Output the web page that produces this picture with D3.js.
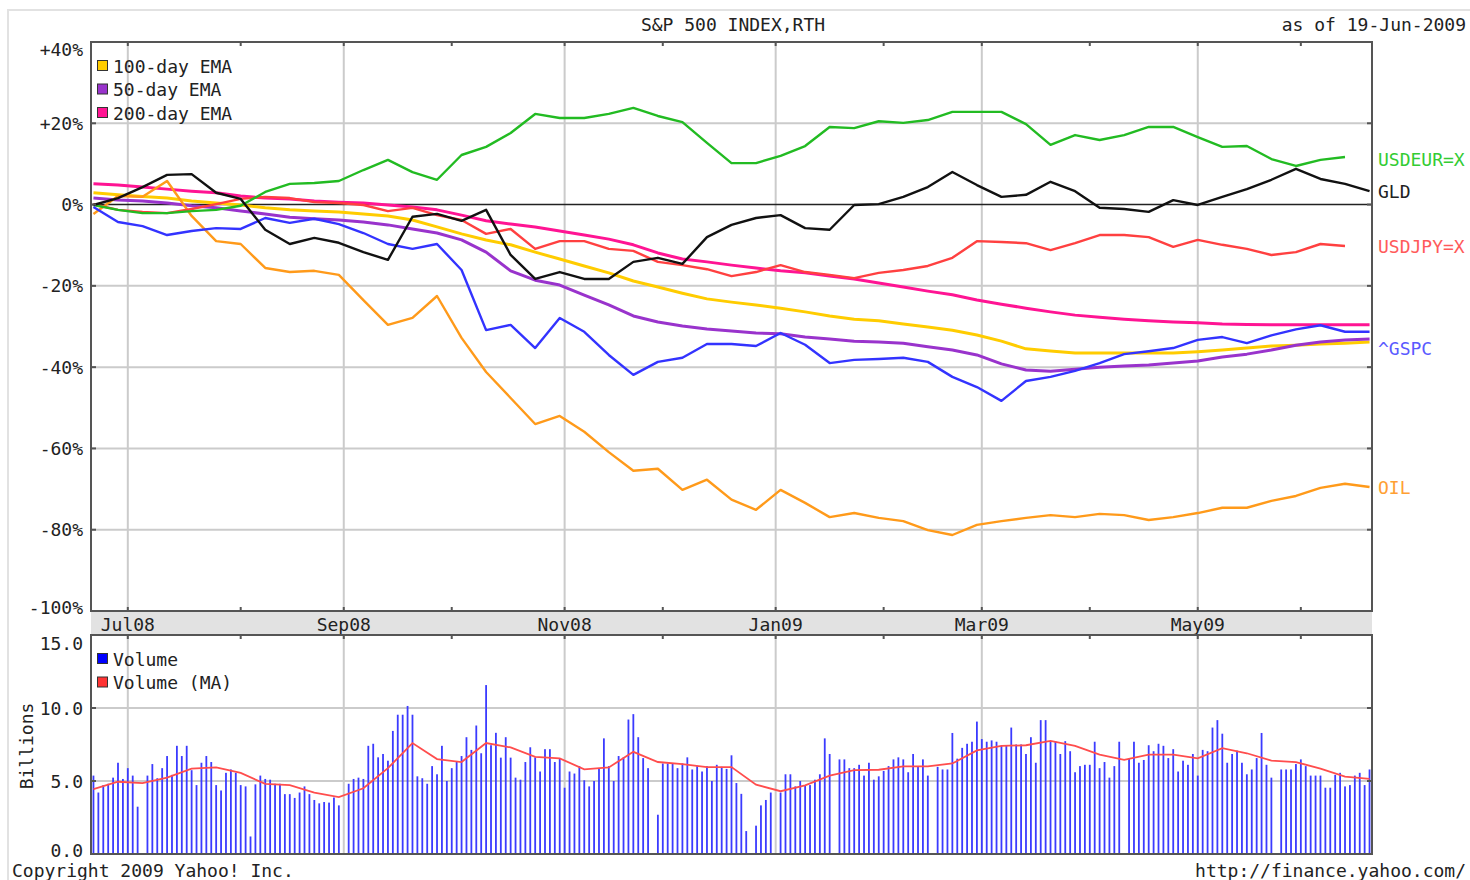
<!DOCTYPE html>
<html>
<head>
<meta charset="utf-8">
<script src="https://cdn.jsdelivr.net/npm/d3@7"></script>
<style>
body { margin: 0; background: #fff; }
text { font-family: "DejaVu Sans Mono", monospace; font-size: 18px; fill: #222; }
</style>
</head>
<body>
<div id="chart"></div>
<script>
// % change since 20-Jun-2008, one value every 5 weekdays
const gspc = [-0.6, -4.3, -5.3, -7.5, -6.5, -5.8, -6.0, -3.3, -4.5, -3.5, -4.8, -7.0, -9.7, -10.9, -9.7, -16.1,
  -30.9, -29.6, -35.3, -27.9, -31.3, -37, -41.9, -38.7, -37.7, -34.3, -34.3, -34.8, -31.6, -34.5, -39, -38.2,
  -38, -37.7, -38.7, -42.4, -44.9, -48.3, -43.4, -42.4, -40.9, -39, -36.8, -36.1, -35.3, -33.3, -32.6, -34.1,
  -32.2, -30.7, -29.7, -31.3, -31.3];
const oil = [-2.3, 2.1, 1.9, 5.8, -2.8, -9.0, -9.7, -15.6, -16.6, -16.3, -17.3, -23.5, -29.6, -27.9, -22.5, -32.8,
  -41.2, -47.6, -54, -52, -55.9, -60.9, -65.5, -65, -70.2, -67.7, -72.6, -75.1, -70.2, -73.4, -76.9, -75.9,
  -77.1, -77.9, -80.1, -81.3, -78.8, -77.9, -77.1, -76.4, -76.9, -76.1, -76.4, -77.6, -76.9, -75.9, -74.6, -74.6,
  -72.9, -71.7, -69.7, -68.7, -69.5];
const usdeur = [-0.1, -1.3, -2.1, -2.1, -1.6, -1.3, -0.3, 3.1, 5.1, 5.3, 5.8, 8.5, 11, 8, 6.1, 12.2,
  14.2, 17.6, 22.3, 21.3, 21.3, 22.3, 23.8, 21.8, 20.3, 15.2, 10.2, 10.2, 12, 14.4, 19.1, 18.8,
  20.5, 20.1, 20.8, 22.8, 22.8, 22.8, 19.8, 14.7, 17.1, 15.9, 17.1, 19.1, 19.1, 16.6, 14.2, 14.4,
  11.2, 9.5, 11, 11.7, null];
const gld = [-0.1, 1.6, 4.3, 7.3, 7.5, 2.9, 1.4, -6.2, -9.7, -8.2, -9.4, -11.7, -13.6, -3, -2.3, -4,
  -1.3, -12.4, -18.3, -16.6, -18.3, -18.3, -14.1, -13.1, -14.6, -8, -5, -3.3, -2.6, -5.8, -6.2, -0.1,
  0.1, 1.9, 4.3, 8, 4.8, 1.9, 2.4, 5.6, 3.3, -0.8, -1.1, -1.8, 1.1, -0.1, 1.9, 3.8,
  6.1, 8.8, 6.3, 5.1, 3.3];
const usdjpy = [0.1, -1.3, -1.8, -2.1, -1.1, 0.1, 1.4, 1.9, 1.6, 0.6, 0.4, -0.1, -1.6, -0.8, -2.6, -3.8,
  -7.2, -6, -10.9, -9, -9, -10.9, -11.4, -14.1, -14.9, -15.9, -17.6, -16.6, -14.9, -16.6, -17.3, -18.1,
  -16.8, -16.1, -15.1, -13.1, -9, -9.2, -9.5, -11.2, -9.5, -7.5, -7.5, -8, -10.4, -8.7, -9.9, -10.9,
  -12.4, -11.7, -9.7, -10.2, null];
const ema200 = [5.1, 4.8, 4.3, 3.8, 3.3, 2.9, 2.1, 1.6, 1.4, 0.9, 0.6, 0.4, -0.1, -0.6, -1.3, -2.6,
  -4, -4.8, -5.5, -6.5, -7.5, -8.5, -9.9, -11.9, -13.4, -14.1, -14.9, -15.6, -16.3, -16.8, -17.6, -18.3,
  -19.3, -20.3, -21.3, -22.2, -23.5, -24.5, -25.5, -26.4, -27.2, -27.7, -28.2, -28.6, -28.9, -29.1, -29.4, -29.5,
  -29.6, -29.6, -29.6, -29.6, -29.6];
const ema100 = [2.9, 2.4, 2, 1.6, 0.9, 0.4, -0.1, -0.8, -1.3, -1.6, -1.8, -2.3, -2.8, -3.8, -5.5, -7.2,
  -8.7, -9.9, -11.7, -13.4, -15.1, -16.8, -18.8, -20.3, -21.8, -23.2, -24, -24.7, -25.5, -26.4, -27.4, -28.2,
  -28.6, -29.4, -30.1, -30.9, -32.1, -33.6, -35.5, -36, -36.5, -36.5, -36.5, -36.5, -36.5, -36.2, -35.8, -35.3,
  -34.8, -34.6, -34.3, -34.1, -33.8];
const ema50 = [1.6, 1.1, 0.9, 0.4, -0.3, -0.8, -1.6, -2.3, -3.1, -3.5, -3.8, -4.3, -5, -6, -7, -8.7,
  -11.7, -16.3, -18.6, -19.8, -22.3, -24.7, -27.4, -28.9, -29.9, -30.6, -31.1, -31.6, -31.8, -32.6, -33.1, -33.6,
  -33.8, -34.1, -35, -35.8, -37, -39.2, -40.7, -41, -40.5, -40, -39.7, -39.5, -39, -38.5, -37.5, -36.8,
  -35.8, -34.6, -33.8, -33.3, -33.1];

// daily volume in billions, one per weekday from 20-Jun-2008, null = market closed
const volume = [
  5.37, 4.21, 4.72, 4.81, 5.23, 6.25, 5.14, 5.88, 5.37, 3.24, null,
  5.37, 6.16, 5.19, 5.88, 6.71, 5.42, 7.41, 6.71, 7.41, 5.74,
  4.72, 6.25, 6.71, 6.3, 4.72, 4.35, 5.56, 5.79, 5.56, 4.72,
  4.63, 1.2, 4.77, 5.37, 5.14, 5.09, 4.81, 4.81, 4.1, 4.1,
  3.84, 4.21, 4.63, 4.1, 3.7, 3.47, 3.56, 3.52, 3.87, 3.33, null,
  4.81, 5.14, 5.23, 5.14, 7.41, 7.55, 6.62, 6.85, 6.39,
  8.43, 9.54, 9.54, 10.14, 9.54,
  5.32, 5.19, 4.81, 6.02, 5.46, 7.41, 5.0, 5.88, 6.3, 6.71, 8.0, 7.13, 8.8,
  6.9, 11.57, 7.45, 8.3, 6.6, 8.0, 6.6,
  5.23, 5.09, 6.3, 7.31, 6.62, 5.65, 7.18, 7.18, 6.3, 6.53,
  4.54, 5.65, 5.51, 6.02, 5.05, 4.63, 5.0, 5.83, 7.92, 6.02, 5.0, 6.71, 6.62, 9.21, 9.58, 8.0, 6.57, 5.88, null,
  2.69, 6.2, 6.2, 6.2, 5.88, 6.2, 6.62, 5.79, 6.02, 5.65, 6.02, 5.0, 6.11, 5.97, 5.83, 6.76, 4.86, 4.12, 1.57, null,
  1.94, 3.33, 3.7, 4.21, null,
  4.21, 5.46, 5.46, 4.63, 5.0, 4.72, 4.72, 5.09, 5.46, 7.92, 6.85, null,
  6.48, 6.48, 5.88, 5.88, 6.11, 5.37, 6.25, 5.09, 5.32, 5.69, 6.02, 6.48, 6.62, 6.48, 5.6, 6.85, 6.02, 6.48, 5.37, null,
  5.97, 5.79, 5.79, 8.29, 6.53, 7.27, 7.55, 7.69, 9.07, 7.87, 7.69, 7.78, 7.69, 7.41, 7.41, 8.66, 7.5, 7.5, 6.85,
  8.0, 6.25, 9.17, 9.17, 7.73, 7.73, 6.85, 7.73, 7.04, 5.6, 6.02, 6.11, 6.11, 7.69, 5.88, 6.3, 5.23, 6.02, 7.69, null,
  6.53, 7.69, 6.25, 6.44, 7.45, 7.04, 7.55, 7.41, 6.57, 7.18, 5.65, 6.39, 6.11, 6.85, 5.37,
  7.13, 7.04, 8.66, 9.17, 8.24, 6.25, 6.85, 7.08, 6.25, 5.46, 5.79, 6.57, 8.29, 6.11, 5.23, null,
  5.79, 5.79, 5.79, 6.16, 6.48, 6.02, 5.37, 5.37, 5.37, 4.54, 4.54, 5.42, 5.56, 4.63, 4.72, 5.37, 5.56, 4.72, 5.79
];
// volume moving average, one value every 5 weekdays
const volumeMA = [4.44, 4.95, 4.86, 5.23, 5.85, 5.93, 5.55, 4.8, 4.72, 4.2, 3.9, 4.5, 5.88, 7.6, 6.5, 6.3,
  7.6, 7.3, 6.65, 6.55, 5.8, 5.93, 7.0, 6.3, 6.15, 5.95, 5.95, 4.75, 4.3, 4.7, 5.37, 5.75,
  5.77, 6.0, 6.0, 6.2, 7.1, 7.4, 7.45, 7.75, 7.4, 6.8, 6.45, 6.8, 6.8, 6.55, 7.25, 6.9,
  6.4, 6.3, 5.85, 5.3, 5.14];

const pctTicks = [40, 20, 0, -20, -40, -60, -80, -100];
const volTicks = [0, 5, 10, 15];

const W = 1470, H = 880;
const plotLeft = 91, plotRight = 1372, plotTop = 42, mainBottom = 611, bandBottom = 635, volBottom = 854;

const svg = d3.select("#chart")
  .append("svg")
  .attr("width", W)
  .attr("height", H);

// weekday calendar drives the x axis (holidays keep their slot)
const days = d3.timeDay.range(new Date(2008, 5, 20), new Date(2009, 5, 20))
  .filter(d => d.getDay() > 0 && d.getDay() < 6);

const x = d3.scaleLinear().domain([0, days.length]).range([plotLeft, plotRight]);
const y = d3.scaleLinear().domain([-100, 40]).range([mainBottom, plotTop]);
const yv = d3.scaleLinear().domain([0, 15]).range([volBottom, bandBottom]);

const monthStarts = days.map((d, i) => ({d, i}))
  .filter(o => o.i > 0 && o.d.getMonth() !== days[o.i - 1].getMonth());
const majors = monthStarts.filter(o => o.d.getMonth() % 2 === 0);

// outer frame
svg.append("path")
  .attr("d", `M8,${H}V10H${W}`)
  .attr("fill", "none").attr("stroke", "#e2e2e2").attr("stroke-width", 2);

// title
svg.append("text").attr("x", 733).attr("y", 31).attr("text-anchor", "middle").text("S&P 500 INDEX,RTH");
svg.append("text").attr("x", 1466).attr("y", 31).attr("text-anchor", "end").text("as of 19-Jun-2009");

// grids
const grid = svg.append("g").attr("stroke", "#cbcbcb").attr("stroke-width", 2);
grid.selectAll(".hg").data(pctTicks.filter(t => t > -100 && t < 40 && t !== 0)).enter()
  .append("line").attr("x1", plotLeft).attr("x2", plotRight).attr("y1", d => y(d)).attr("y2", d => y(d));
grid.selectAll(".vg").data(volTicks.filter(t => t > 0 && t < 15)).enter()
  .append("line").attr("x1", plotLeft).attr("x2", plotRight).attr("y1", d => yv(d)).attr("y2", d => yv(d));
grid.selectAll(".mg").data(majors).enter().append("line")
  .attr("x1", d => x(d.i + 0.5)).attr("x2", d => x(d.i + 0.5))
  .attr("y1", plotTop).attr("y2", mainBottom);
grid.selectAll(".mg2").data(majors).enter().append("line")
  .attr("x1", d => x(d.i + 0.5)).attr("x2", d => x(d.i + 0.5))
  .attr("y1", bandBottom).attr("y2", volBottom);

svg.append("line").attr("x1", plotLeft).attr("x2", plotRight).attr("y1", y(0)).attr("y2", y(0))
  .attr("stroke", "#222").attr("stroke-width", 1.5);

// volume bars
const bars = days.map((d, i) => ({i, v: volume[i]})).filter(o => o.v != null);
svg.append("g").selectAll("rect").data(bars).enter().append("rect")
  .attr("x", d => x(d.i + 0.5) - 0.9)
  .attr("width", 1.8)
  .attr("y", d => yv(d.v))
  .attr("height", d => yv(0) - yv(d.v))
  .attr("fill", "#3b3bff");

svg.append("path")
  .datum(volumeMA)
  .attr("fill", "none").attr("stroke", "#ff4d4d").attr("stroke-width", 1.8)
  .attr("d", d3.line().x((d, k) => x(k * 5 + 0.5)).y(d => yv(d)));

// price lines
const series = [
  {name: "200-day EMA", values: ema200, color: "#ff1493", w: 3},
  {name: "100-day EMA", values: ema100, color: "#ffcc00", w: 3},
  {name: "50-day EMA", values: ema50, color: "#9933cc", w: 3},
  {name: "OIL", values: oil, color: "#ff9a1a", w: 2.4, label: "#ffa033", dy: 0},
  {name: "USDJPY=X", values: usdjpy, color: "#ff4040", w: 2.4, label: "#ff5a5a", dy: 0},
  {name: "USDEUR=X", values: usdeur, color: "#22bb22", w: 2.4, label: "#33cc33", dy: 2},
  {name: "^GSPC", values: gspc, color: "#3333ff", w: 2.4, label: "#5a5aff", dy: 17},
  {name: "GLD", values: gld, color: "#111", w: 2.4, label: "#222", dy: 0}
];

const line = d3.line()
  .defined(d => d != null)
  .x((d, k) => x(k * 5 + 0.5))
  .y(d => y(d));

svg.append("g").selectAll("path").data(series).enter().append("path")
  .attr("fill", "none")
  .attr("stroke", d => d.color)
  .attr("stroke-width", d => d.w)
  .attr("stroke-linejoin", "round")
  .attr("d", d => line(d.values));

svg.append("g").selectAll("text").data(series.filter(s => s.label)).enter().append("text")
  .attr("x", 1378)
  .attr("y", d => y(d.values.filter(v => v != null).slice(-1)[0]) + d.dy)
  .attr("dominant-baseline", "central")
  .style("fill", d => d.label)
  .text(d => d.name);

// date band
svg.append("rect").attr("x", plotLeft).attr("y", mainBottom).attr("width", plotRight - plotLeft)
  .attr("height", bandBottom - mainBottom).attr("fill", "#e2e2e2");
svg.selectAll(".ml").data(majors).enter().append("text")
  .attr("x", d => x(d.i + 0.5)).attr("y", 624)
  .attr("text-anchor", "middle").attr("dominant-baseline", "central")
  .text(d => d3.timeFormat("%b%y")(d.d));

// frames and ticks
const frame = svg.append("g").attr("fill", "none").attr("stroke", "#555").attr("stroke-width", 2);
frame.append("rect").attr("x", plotLeft).attr("y", plotTop).attr("width", plotRight - plotLeft).attr("height", mainBottom - plotTop);
frame.append("rect").attr("x", plotLeft).attr("y", bandBottom).attr("width", plotRight - plotLeft).attr("height", volBottom - bandBottom);

const ticks = svg.append("g").attr("stroke", "#555").attr("stroke-width", 2);
monthStarts.forEach(o => {
  const tx = x(o.i + 0.5);
  ticks.append("line").attr("x1", tx).attr("x2", tx).attr("y1", plotTop).attr("y2", plotTop + 4);
  ticks.append("line").attr("x1", tx).attr("x2", tx).attr("y1", mainBottom - 4).attr("y2", mainBottom);
  ticks.append("line").attr("x1", tx).attr("x2", tx).attr("y1", bandBottom).attr("y2", bandBottom + 4);
});
pctTicks.forEach(t => {
  ticks.append("line").attr("x1", plotLeft).attr("x2", plotLeft + 5).attr("y1", y(t)).attr("y2", y(t));
  ticks.append("line").attr("x1", plotRight - 5).attr("x2", plotRight).attr("y1", y(t)).attr("y2", y(t));
});
volTicks.forEach(t => {
  ticks.append("line").attr("x1", plotLeft).attr("x2", plotLeft + 5).attr("y1", yv(t)).attr("y2", yv(t));
  ticks.append("line").attr("x1", plotRight - 5).attr("x2", plotRight).attr("y1", yv(t)).attr("y2", yv(t));
});

// axis labels
svg.selectAll(".pl").data(pctTicks).enter().append("text")
  .attr("x", 83)
  .attr("y", d => Math.min(mainBottom - 4, Math.max(plotTop + 7, y(d))))
  .attr("text-anchor", "end").attr("dominant-baseline", "central")
  .text(d => (d > 0 ? "+" : "") + d + "%");
svg.selectAll(".vl").data(volTicks).enter().append("text")
  .attr("x", 83)
  .attr("y", d => Math.min(volBottom - 4, Math.max(bandBottom + 8, yv(d))))
  .attr("text-anchor", "end").attr("dominant-baseline", "central")
  .text(d => d.toFixed(1));
svg.append("text")
  .attr("transform", "translate(26,746) rotate(-90)")
  .attr("text-anchor", "middle").attr("dominant-baseline", "central")
  .text("Billions");

// legends
const legendMain = [
  {name: "100-day EMA", color: "#ffcc00"},
  {name: "50-day EMA", color: "#9933cc"},
  {name: "200-day EMA", color: "#ff1493"}
];
const legendVol = [
  {name: "Volume", color: "#0000ff"},
  {name: "Volume (MA)", color: "#ff3333"}
];
function legend(items, y0) {
  const g = svg.append("g");
  items.forEach((it, k) => {
    const cy = y0 + k * 23.5;
    g.append("rect").attr("x", 97.5).attr("y", cy - 5.5).attr("width", 10).attr("height", 10)
      .attr("fill", it.color).attr("stroke", "#333").attr("stroke-width", 1);
    g.append("text").attr("x", 113).attr("y", cy).attr("dominant-baseline", "central").text(it.name);
  });
}
legend(legendMain, 66);
legend(legendVol, 659);

// footer
svg.append("text").attr("x", 12).attr("y", 870).attr("dominant-baseline", "central").text("Copyright 2009 Yahoo! Inc.");
svg.append("text").attr("x", 1466).attr("y", 870).attr("text-anchor", "end").attr("dominant-baseline", "central").text("http://finance.yahoo.com/");
</script>
</body>
</html>
